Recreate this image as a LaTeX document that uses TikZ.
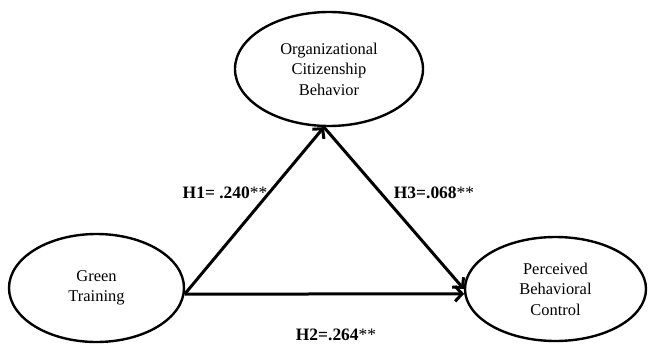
\documentclass[tikz,border=0pt]{standalone}
\usepackage{fontspec}
\setmainfont{Liberation Serif}
\usetikzlibrary{positioning,arrows.meta,shapes.geometric}

\tikzset{
    construct/.style={ellipse, draw, line width=2.4bp, align=center,
        font=\fontsize{16.5}{20.5}\selectfont, inner sep=0pt},
    path/.style={line width=3bp, -{Straight Barb[length=7bp,width=15bp]}},
    coef/.style={font=\fontsize{17.5}{20}\selectfont}
}

\begin{document}
\begin{tikzpicture}[x=1bp, y=1bp]
    \useasboundingbox (0,0) rectangle (649,343);

    % Constructs
    \node[construct, minimum width=188bp, minimum height=114bp] (ocb) at (329,274)
        {Organizational\\Citizenship\\Behavior};
    \node[construct, minimum width=175bp, minimum height=108bp] (gt) at (96.5,55)
        {Green\\Training};
    \node[construct, minimum width=181bp, minimum height=104bp] (pbc) at (555.5,54)
        {Perceived\\Behavioral\\Control};

    % Hypothesised paths
    \draw[path] (gt.-4) -- (ocb.265);
    \draw[path] (ocb.265) -- (pbc.west);
    \draw[path] (gt.-4) -- (pbc.183);

    % Path coefficients
    \node[coef] (h1) at (225,150) {\textbf{H1= .240}**};
    \node[coef] (h3) at (434,150) {\textbf{H3=.068}**};
    \node[coef] (h2) at (336,8) {\textbf{H2=.264}**};
\end{tikzpicture}
\end{document}
